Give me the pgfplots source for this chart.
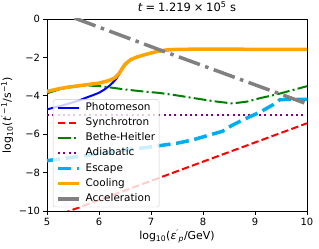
\documentclass[border=0pt]{standalone}
\usepackage{pgfplots}
\pgfplotsset{compat=1.18}
\usepackage{fontspec}
\setmainfont{DejaVu Sans}
\definecolor{mplgreen}{RGB}{0,128,0}
\definecolor{mplpurple}{RGB}{128,0,128}
\definecolor{mplorange}{RGB}{255,165,0}
\definecolor{mplgray}{RGB}{128,128,128}
\begin{document}
\begin{tikzpicture}
\begin{axis}[
  scale only axis, width=260bp, height=192bp,
  xmin=5, xmax=10, ymin=-10, ymax=0,
  xtick={5,6,7,8,9,10}, xticklabels={5,6,7,8,9,10},
  ytick={-10,-8,-6,-4,-2,0}, yticklabels={−10,−8,−6,−4,−2,0},
  /pgf/number format/assume math mode=true,
  tick align=outside, tick pos=left, major tick length=3.5bp,
  every tick/.style={black, line width=0.8bp},
  axis line style={line width=0.8bp},
  tick label style={font=\fontsize{10}{12}\selectfont},
  label style={font=\fontsize{11}{13}\selectfont},
  title style={font=\fontsize{11.5}{13.5}\selectfont, yshift=-2.5bp, xshift=10bp},
  title={\textit{t}\hspace{0.25em}=\hspace{0.25em}1.219\hspace{0.25em}×\hspace{0.25em}10\textsuperscript{5} s},
  xlabel={log\textsubscript{10}(\textit{ε}\textsuperscript{′}\textsubscript{\textit{p}}/GeV)},
  ylabel={log\textsubscript{10}(\textit{t}\textsuperscript{′\,−1}/s\textsuperscript{−1})},
  xlabel style={yshift=2.5bp},
  ylabel style={yshift=-1bp},
  legend style={at={(0.023,0.02)}, anchor=south west, draw=black!20, fill=white,
    fill opacity=0.8, text opacity=1, rounded corners=2bp,
    font=\fontsize{10.5}{12.5}\selectfont,
    nodes={text height=7.8bp, text depth=2.4bp, inner sep=1bp},
    row sep=3bp, inner xsep=3bp, inner ysep=2bp, column sep=4bp},
  legend cell align=left,
  legend image code/.code={\draw[#1] (0bp,0bp) -- (21bp,0bp);},
]
% Photomeson
\addplot[blue, line width=2bp] coordinates {
(5.0,-4.71) (5.15,-4.6) (5.3,-4.5) (5.45,-4.38) (5.6,-4.26) (5.75,-4.1) (5.9,-3.95) (6.0,-3.84)
(6.1,-3.68) (6.2,-3.48) (6.27,-3.3) (6.33,-3.12) (6.38,-2.92) (6.44,-2.64)
(6.5,-2.4) (6.6,-2.15) (6.7,-2.03) (6.85,-1.9) (7.0,-1.79) (7.1,-1.72) (7.3,-1.63)
(7.5,-1.6) (8,-1.59) (8.5,-1.59) (9,-1.6) (9.5,-1.6) (10,-1.6)};
\addlegendentry{Photomeson}
% Synchrotron
\addplot[red, line width=2bp, dash pattern=on 7.4bp off 3.2bp] coordinates {
(5.3,-10.13) (6,-9.43) (7,-8.43) (8,-7.43) (9,-6.43) (10,-5.43)};
\addlegendentry{Synchrotron}
% Bethe-Heitler
\addplot[mplgreen, line width=2bp, dash pattern=on 12.8bp off 3.2bp on 2bp off 3.2bp] coordinates {
(5.0,-3.87) (5.2,-3.7) (5.4,-3.58) (5.6,-3.5) (5.8,-3.47) (6.0,-3.49) (6.2,-3.56)
(6.5,-3.67) (6.8,-3.76) (7.16,-3.85) (7.5,-3.98) (7.8,-4.11) (8.2,-4.28) (8.57,-4.4)
(8.85,-4.3) (9.1,-4.12) (9.4,-3.94) (9.7,-3.72) (10,-3.5)};
\addlegendentry{Bethe-Heitler}
% Adiabatic
\addplot[mplpurple, line width=2bp, dash pattern=on 2bp off 3.3bp] coordinates {
(5,-5) (10,-5)};
\addlegendentry{Adiabatic}
% Escape
\addplot[cyan, line width=3.5bp, dash pattern=on 13bp off 5.6bp] coordinates {
(5.0,-7.38) (5.5,-7.2) (6.0,-7.02) (6.5,-6.83) (7.0,-6.66) (7.5,-6.47) (7.8,-6.3)
(8.1,-6.06) (8.37,-5.85) (8.55,-5.55) (8.77,-5.25) (9.09,-4.86) (9.35,-4.46)
(9.48,-4.2) (9.6,-4.19) (10,-4.19)};
\addlegendentry{Escape}
% Cooling
\addplot[mplorange, line width=3.5bp] coordinates {
(5.0,-3.77) (5.2,-3.65) (5.4,-3.55) (5.6,-3.48) (5.8,-3.41) (6.0,-3.34) (6.2,-3.2)
(6.3,-3.07) (6.38,-2.86) (6.44,-2.6) (6.5,-2.36) (6.6,-2.13) (6.7,-2.01) (6.85,-1.88)
(7.0,-1.77) (7.1,-1.7) (7.3,-1.61) (7.5,-1.58) (8,-1.57) (8.5,-1.57) (9,-1.58)
(9.5,-1.58) (10,-1.58)};
\addlegendentry{Cooling}
% Acceleration
\addplot[mplgray, line width=3.5bp, dash pattern=on 22.4bp off 5.6bp on 3.5bp off 5.6bp] coordinates {
(5.53,0.05) (7.16,-1.6) (10,-4.42)};
\addlegendentry{Acceleration}
\end{axis}
\pgfresetboundingbox
\path ([shift={(-47bp,-38bp)}]current axis.south west) rectangle ([shift={(12bp,19bp)}]current axis.north east);
\end{tikzpicture}
\end{document}
